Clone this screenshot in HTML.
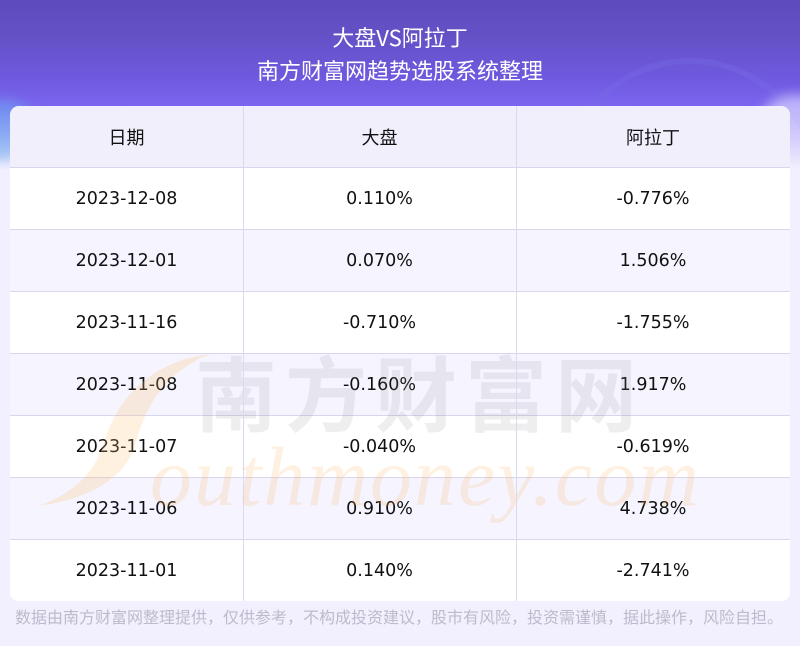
<!DOCTYPE html>
<html><head><meta charset="utf-8">
<style>
*{margin:0;padding:0;box-sizing:border-box}
html,body{width:800px;height:646px;overflow:hidden}
body{position:relative;background:#f2f0fe;font-family:"DejaVu Sans","Liberation Sans","Noto Sans CJK SC",sans-serif;}
.bg{position:absolute;left:0;top:0;width:800px;height:170px;overflow:hidden;
background:linear-gradient(180deg,#5d4bbd 0px,#6552c8 40px,#6f5ae0 80px,#7d67f2 110px,#b9acf7 135px,#e4e0fb 150px,#f2f0fe 170px);}
.arc{position:absolute;left:560px;top:58px;width:260px;height:260px;border-radius:50%;border:6px solid rgba(120,110,230,0.35)}
.glow1{position:absolute;left:-40px;top:100px;width:80px;height:60px;border-radius:50%;background:rgba(110,170,240,0.6);filter:blur(6px)}
.glow2{position:absolute;right:-30px;top:95px;width:70px;height:60px;border-radius:50%;background:rgba(220,215,255,0.7);filter:blur(6px)}
.t1,.t2{position:absolute;left:0;width:800px;text-align:center;color:#fff;font-family:"Noto Sans CJK SC","Liberation Sans",sans-serif;font-size:22px;line-height:30px}
.t1{top:22px}
.t2{top:55px}
.tbl{position:absolute;left:10px;top:106px;width:780px;height:495px;border-radius:9px;overflow:hidden;background:#fff}
.row{position:absolute;left:0;width:780px;height:62px;border-bottom:1px solid #d9d5ec}
.row div{position:absolute;top:0;height:62px;line-height:62px;text-align:center;font-size:17.5px;color:#111}
.c1{left:0;width:233px}
.c2{left:233px;width:273px}
.c3{left:506px;width:274px}
.hd div{font-family:"Noto Sans CJK SC",sans-serif;font-size:18px}
.vl{position:absolute;top:0;width:1px;height:495px;background:#dcd8ee}
.foot{position:absolute;left:15px;top:604px;font-family:"Noto Sans CJK SC",sans-serif;font-size:16px;color:#bdbacb;white-space:nowrap;letter-spacing:0px}
.wm{position:absolute;left:0;top:0;width:800px;height:646px}
</style></head><body>
<div class="bg"><div class="arc"></div><div class="glow1"></div><div class="glow2"></div></div>
<div class="t1">大盘VS阿拉丁</div>
<div class="t2">南方财富网趋势选股系统整理</div>
<div class="tbl">
  <div class="row hd" style="top:0;background:#f1effc"><div class="c1">日期</div><div class="c2">大盘</div><div class="c3">阿拉丁</div></div>
  <div class="row" style="top:62px;background:#fff"><div class="c1">2023-12-08</div><div class="c2">0.110%</div><div class="c3">-0.776%</div></div>
  <div class="row" style="top:124px;background:#f6f4fe"><div class="c1">2023-12-01</div><div class="c2">0.070%</div><div class="c3">1.506%</div></div>
  <div class="row" style="top:186px;background:#fff"><div class="c1">2023-11-16</div><div class="c2">-0.710%</div><div class="c3">-1.755%</div></div>
  <div class="row" style="top:248px;background:#f6f4fe"><div class="c1">2023-11-08</div><div class="c2">-0.160%</div><div class="c3">1.917%</div></div>
  <div class="row" style="top:310px;background:#fff"><div class="c1">2023-11-07</div><div class="c2">-0.040%</div><div class="c3">-0.619%</div></div>
  <div class="row" style="top:372px;background:#f6f4fe"><div class="c1">2023-11-06</div><div class="c2">0.910%</div><div class="c3">4.738%</div></div>
  <div class="row" style="top:434px;background:#fff;border-bottom:none;height:61px"><div class="c1">2023-11-01</div><div class="c2">0.140%</div><div class="c3">-2.741%</div></div>
</div>
<svg class="wm" width="800" height="646" viewBox="0 0 800 646">
  <path d="M210 354 C160 360 120 390 105 440 C95 475 70 495 38 506 C85 500 125 480 135 445 C145 410 160 375 210 354 Z" fill="rgba(250,190,110,0.22)"/>
  <text x="150" y="505" font-family="Liberation Serif,serif" font-style="italic" font-size="84" fill="rgba(250,185,110,0.2)" letter-spacing="2">outhmoney.com</text>
  <text x="195" y="425" font-family="Noto Sans CJK SC,sans-serif" font-weight="bold" font-size="82" fill="rgba(140,140,150,0.15)" letter-spacing="8">南方财富网</text>
</svg>
<div class="vl" style="left:243px;top:106px"></div>
<div class="vl" style="left:516px;top:106px"></div>
<div class="foot">数据由南方财富网整理提供，仅供参考，不构成投资建议，股市有风险，投资需谨慎，据此操作，风险自担。</div>
</body></html>
